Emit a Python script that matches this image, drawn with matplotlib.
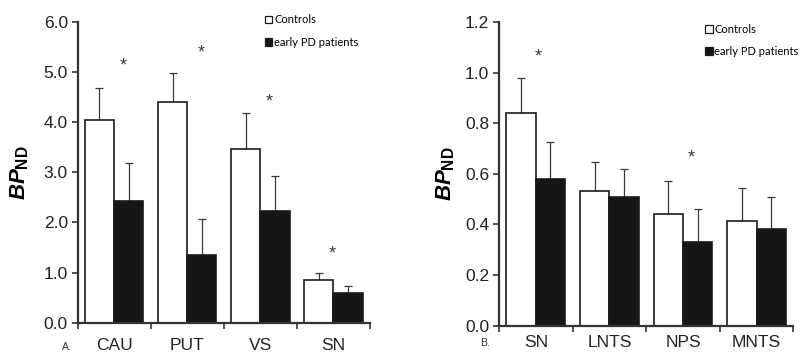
import matplotlib
matplotlib.use('Agg')
import matplotlib.pyplot as plt
from matplotlib.patches import Patch
import numpy as np

plt.rcParams['font.family'] = ['Liberation Sans', 'DejaVu Sans']
plt.rcParams['mathtext.fontset'] = 'custom'
plt.rcParams['mathtext.it'] = 'Liberation Sans:bold:italic'
plt.rcParams['mathtext.bf'] = 'Liberation Sans:bold'
plt.rcParams['mathtext.rm'] = 'Liberation Sans'

# panel A: striatal regions + SN
regions_a = ['CAU', 'PUT', 'VS', 'SN']
ctrl_a = [4.05, 4.40, 3.47, 0.85]
ctrl_a_err = [0.64, 0.58, 0.71, 0.15]
pd_a = [2.43, 1.35, 2.22, 0.59]
pd_a_err = [0.76, 0.71, 0.71, 0.14]
stars_a = [5.12, 5.38, 4.40, 1.37]

# panel B: extrastriatal regions
regions_b = ['SN', 'LNTS', 'NPS', 'MNTS']
ctrl_b = [0.84, 0.53, 0.44, 0.414]
ctrl_b_err = [0.14, 0.115, 0.13, 0.128]
pd_b = [0.58, 0.507, 0.33, 0.38]
pd_b_err = [0.147, 0.113, 0.13, 0.127]
stars_b = [1.06, None, 0.664, None]

fig = plt.figure(figsize=(8.09, 3.55), dpi=100)
ax_a = fig.add_axes([0.0958, 0.091, 0.3615, 0.847])
ax_b = fig.add_axes([0.6168, 0.083, 0.3638, 0.855])

edge = '#1a1a1a'
spine_col = '#333333'


def draw_panel(ax, regions, ctrl, ctrl_err, pdv, pd_err, stars, star_dx, ymax, ystep, xpad):
    x = np.arange(len(regions)) + 0.5
    w = 0.4
    ax.bar(x - w / 2, ctrl, w, color='white', edgecolor=edge, linewidth=1.2, zorder=2)
    ax.bar(x + w / 2, pdv, w, color='#161616', edgecolor=edge, linewidth=1.2, zorder=2)
    ax.errorbar(x - w / 2, ctrl, yerr=[np.zeros(len(ctrl)), ctrl_err], fmt='none',
                ecolor='#3a3a3a', elinewidth=0.9, capsize=3, capthick=0.9, zorder=1)
    ax.errorbar(x + w / 2, pdv, yerr=[np.zeros(len(pdv)), pd_err], fmt='none',
                ecolor='#3a3a3a', elinewidth=0.9, capsize=3, capthick=0.9, zorder=1)
    for i, s in enumerate(stars):
        if s is not None:
            ax.text(x[i] + star_dx[i], s, '*', ha='center', va='center',
                    fontsize=13, color='#3a3a3a')

    ax.set_xlim(0, len(regions))
    ax.set_ylim(0, ymax)
    ax.set_xticks(np.arange(len(regions) + 1))
    ax.set_xticklabels([])
    ax.set_xticks(x, minor=True)
    ax.set_xticklabels(regions, minor=True, fontsize=12.5, color='#222222')
    ax.tick_params(axis='x', which='minor', length=0, pad=xpad)
    ax.tick_params(axis='x', which='major', length=4, width=1.2, color=spine_col)
    ax.set_yticks(np.arange(0, ymax + ystep / 2, ystep))
    ax.yaxis.set_major_formatter(matplotlib.ticker.FormatStrFormatter('%.1f'))
    ax.tick_params(axis='y', length=4, width=1.2, color=spine_col, labelsize=12.5,
                   labelcolor='#222222', pad=3)
    for side in ['top', 'right']:
        ax.spines[side].set_visible(False)
    for side in ['left', 'bottom']:
        ax.spines[side].set_color(spine_col)
        ax.spines[side].set_linewidth(1.6)


draw_panel(ax_a, regions_a, ctrl_a, ctrl_a_err, pd_a, pd_a_err, stars_a,
           [0.12, 0.19, 0.12, -0.02], 6.0, 1.0, 11)
draw_panel(ax_b, regions_b, ctrl_b, ctrl_b_err, pd_b, pd_b_err, stars_b,
           [0.04, 0, 0.11, 0], 1.2, 0.2, 7)

ax_a.set_ylabel(r'$BP_{\mathbf{ND}}$', fontsize=16, labelpad=9)
ax_b.set_ylabel(r'$BP_{\mathbf{ND}}$', fontsize=16, labelpad=6)

handles = [Patch(facecolor='white', edgecolor=edge, linewidth=0.9),
           Patch(facecolor='#161616', edgecolor=edge, linewidth=0.9)]
labels = ['Controls', 'early PD patients']
leg_kw = dict(frameon=False, handlelength=0.7, handleheight=0.7,
              handletextpad=0.15, labelspacing=1.0, borderaxespad=0, borderpad=0,
              prop={'family': 'Lato', 'size': 8})
ax_a.legend(handles, labels, loc='upper left', bbox_to_anchor=(0.64, 1.025), **leg_kw)
ax_b.legend(handles, labels, loc='upper left', bbox_to_anchor=(0.70, 0.995), **leg_kw)

fig.text(0.083, 0.022, 'A.', fontsize=7.5, color='#333333', ha='center', va='center')
fig.text(0.600, 0.035, 'B.', fontsize=7.5, color='#333333', ha='center', va='center')

fig.savefig('out.png', dpi=100, facecolor='white')
